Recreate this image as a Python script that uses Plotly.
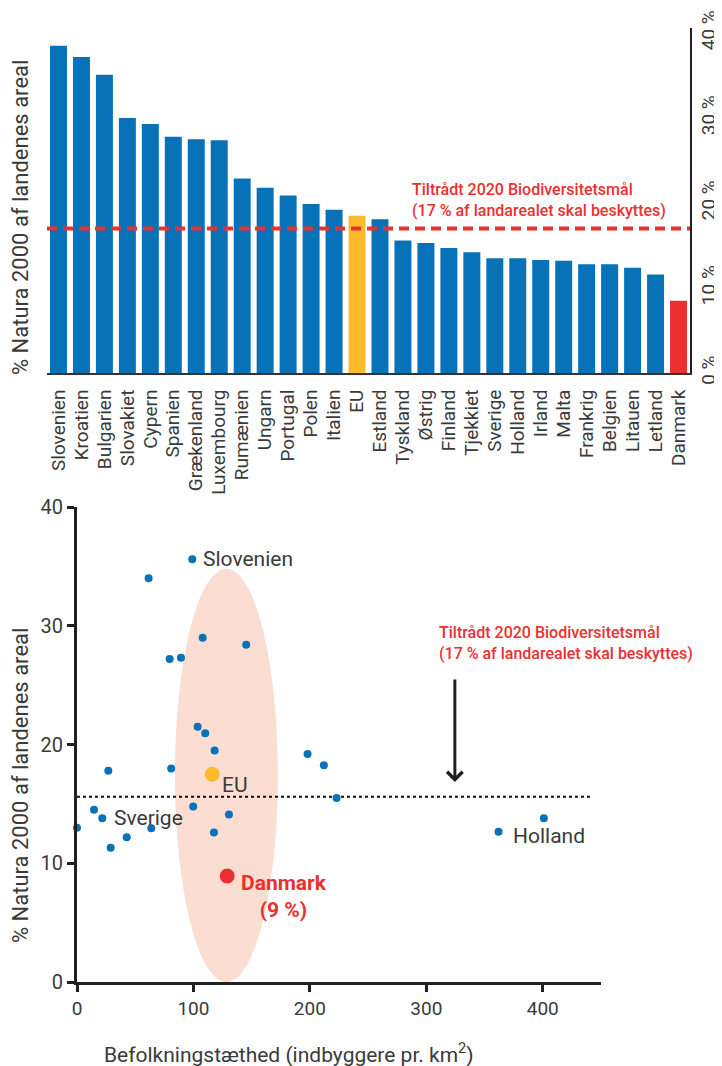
import plotly.graph_objects as go

# ---------------- data ----------------
countries = ["Slovenien", "Kroatien", "Bulgarien", "Slovakiet", "Cypern", "Spanien",
             "Grækenland", "Luxembourg", "Rumænien", "Ungarn", "Portugal", "Polen",
             "Italien", "EU", "Estland", "Tyskland", "Østrig", "Finland", "Tjekkiet",
             "Sverige", "Holland", "Irland", "Malta", "Frankrig", "Belgien", "Litauen",
             "Letland", "Danmark"]
natura_share = [38.5, 37.2, 35.1, 30.0, 29.3, 27.8, 27.5, 27.4, 22.9, 21.8, 20.9, 19.9,
                19.2, 18.5, 18.1, 15.6, 15.3, 14.7, 14.2, 13.5, 13.5, 13.3, 13.2, 12.8,
                12.8, 12.4, 11.6, 8.5]
bar_ticks = [0, 10, 20, 30, 40]
bar_ticktext = ["0 %", "10 %", "20 %", "30 %", "40 %"]
target_bar = 17

# scatter: population density vs Natura 2000 share
density = [99.0, 61.5, 107.9, 145.3, 79.6, 89.3, 103.6, 110.1, 118.2, 26.9, 80.9,
           99.8, 14.6, 21.7, 130.5, 0.0, 63.8, 117.6, 42.7, 28.9, 198.0, 212.0,
           222.9, 362.0, 400.9]
share = [35.6, 34.0, 29.0, 28.4, 27.2, 27.3, 21.5, 20.95, 19.5, 17.8, 17.97,
         14.77, 14.5, 13.8, 14.1, 13.0, 12.95, 12.6, 12.2, 11.3, 19.2, 18.25,
         15.5, 12.66, 13.8]
eu_point = (116.1, 17.5)
dk_point = (129.0, 8.93)
target_scatter = 15.6
x_ticks = [0, 100, 200, 300, 400]
y_ticks = [0, 10, 20, 30, 40]

BLUE = "#0872b9"
YELLOW = "#fdbb2a"
RED = "#ec2f2f"
DARK = "#231f20"
TXT = "#3a3a3a"
FONT = "Roboto"

# the page body has an 8px margin, so the figure is drawn offset by 8px
OFF = 8
W, H = 722 - OFF, 1066 - OFF
def fx(px): return (px - OFF) / W
def fy(py): return 1 - (py - OFF) / H

bar_colors = [YELLOW if c == "EU" else RED if c == "Danmark" else BLUE for c in countries]

fig = go.Figure()

fig.add_trace(go.Bar(x=countries, y=natura_share, marker=dict(color=bar_colors, line_width=0),
                     xaxis="x", yaxis="y", showlegend=False, hoverinfo="x+y"))

fig.add_trace(go.Scatter(x=density, y=share, mode="markers",
                         marker=dict(color=BLUE, size=8), xaxis="x2", yaxis="y2",
                         cliponaxis=False, showlegend=False))
fig.add_trace(go.Scatter(x=[eu_point[0]], y=[eu_point[1]], mode="markers",
                         marker=dict(color=YELLOW, size=15), xaxis="x2", yaxis="y2",
                         cliponaxis=False, showlegend=False))
fig.add_trace(go.Scatter(x=[dk_point[0]], y=[dk_point[1]], mode="markers",
                         marker=dict(color=RED, size=15), xaxis="x2", yaxis="y2",
                         cliponaxis=False, showlegend=False))

fig.update_layout(
    width=W, height=H,
    margin=dict(l=0, r=0, t=0, b=0, autoexpand=False),
    paper_bgcolor="white", plot_bgcolor="white",
    font=dict(family=FONT, color=TXT),
    bargap=0.26,
    xaxis=dict(domain=[fx(47), fx(690)], type="category", showline=True,
               linecolor="#333333", linewidth=2, ticks="", tickangle=-90,
               tickmode="array", tickvals=countries, ticktext=countries,
               tickfont=dict(size=19, color=TXT), showgrid=False, zeroline=False,
               anchor="y", automargin=False, ticklabelstandoff=7),
    yaxis=dict(domain=[fy(373), fy(28)], range=[0, 40.6], side="right",
               anchor="x", showline=True, linecolor=DARK, linewidth=2, ticks="",
               tickvals=bar_ticks, ticktext=bar_ticktext, tickangle=-90,
               tickfont=dict(size=19, color=TXT), showgrid=False, zeroline=False,
               automargin=False),
    xaxis2=dict(domain=[fx(77), fx(601)], range=[0, 450], anchor="y2",
                showline=True, linecolor=DARK, linewidth=3, ticks="outside",
                ticklen=7, tickwidth=3, tickcolor=DARK, tickvals=x_ticks,
                tickfont=dict(size=19, color=TXT), showgrid=False, zeroline=False,
                automargin=False),
    yaxis2=dict(domain=[fy(982), fy(507)], range=[0, 40], anchor="x2",
                showline=True, linecolor=DARK, linewidth=3, ticks="outside",
                ticklen=7, tickwidth=3, tickcolor=DARK, tickvals=y_ticks,
                tickfont=dict(size=20, color=TXT), showgrid=False, zeroline=False,
                automargin=False),
)

shapes = []
# top target line
shapes.append(dict(type="line", xref="x domain", yref="y", x0=0, x1=1,
                   y0=target_bar, y1=target_bar,
                   line=dict(color=RED, width=4, dash="10px,6px"), layer="above"))
# ellipse
shapes.append(dict(type="circle", xref="x2", yref="y2", x0=84.1, x1=172.5, y0=0, y1=34.8,
                   fillcolor="#fcddd1", line=dict(width=0), layer="below"))
# dotted target line
shapes.append(dict(type="line", xref="x2", yref="y2", x0=0, x1=443,
                   y0=target_scatter, y1=target_scatter,
                   line=dict(color="#111111", width=2.2, dash="dot"), layer="below"))
fig.update_layout(shapes=shapes)

ann = []
# y titles
ann.append(dict(text="% Natura 2000 af landenes areal", xref="paper", yref="paper",
                x=fx(20), y=fy(218), textangle=-90, showarrow=False,
                font=dict(size=22, color=TXT), xanchor="center", yanchor="middle"))
ann.append(dict(text="% Natura 2000 af landenes areal", xref="paper", yref="paper",
                x=fx(20), y=fy(786), textangle=-90, showarrow=False,
                font=dict(size=22, color=TXT), xanchor="center", yanchor="middle"))
# x title bottom
ann.append(dict(text="Befolkningstæthed (indbyggere pr. km<sup>2</sup>)", xref="paper",
                yref="paper", x=fx(289), y=fy(1053), showarrow=False,
                font=dict(size=21, color=TXT), xanchor="center", yanchor="middle"))
# red notes
ann.append(dict(text="Tiltrådt 2020 Biodiversitetsmål<br>(17 % af landarealet skal beskyttes)",
                xref="paper", yref="paper", x=fx(410), y=fy(200), showarrow=False,
                align="left", xanchor="left", yanchor="middle",
                font=dict(size=16, color=RED, weight=500)))
ann.append(dict(text="Tiltrådt 2020 Biodiversitetsmål<br>(17 % af landarealet skal beskyttes)",
                xref="paper", yref="paper", x=fx(437), y=fy(643), showarrow=False,
                align="left", xanchor="left", yanchor="middle",
                font=dict(size=16, color=RED, weight=500)))
# arrow
ann.append(dict(x=324.5, y=16.85, ax=324.5, ay=25.6, xref="x2", yref="y2",
                axref="x2", ayref="y2", text="", showarrow=True, arrowhead=4,
                arrowsize=1, arrowwidth=3, arrowcolor=DARK))
# point labels
def lab(text, x, y, xs, ys, size=21, color=TXT):
    return dict(text=text, x=x, y=y, xref="x2", yref="y2", xanchor="left",
                yanchor="middle", xshift=xs, yshift=ys, showarrow=False,
                font=dict(size=size, color=color))
ann.append(lab("Slovenien", density[0], share[0], 9, 0))
ann.append(lab("EU", eu_point[0], eu_point[1], 8, -11))
ann.append(lab("Sverige", density[13], share[13], 10, 0))
ann.append(lab("Holland", density[23], share[23], 12, -4))
ann.append(dict(text="Danmark<br>(9 %)", x=dk_point[0], y=dk_point[1], xref="x2",
                yref="y2", xanchor="left", yanchor="top", xshift=12, yshift=7,
                showarrow=False, align="center",
                font=dict(size=21, color=RED, weight=700)))
fig.update_layout(annotations=ann)

fig.write_html("out.html")
